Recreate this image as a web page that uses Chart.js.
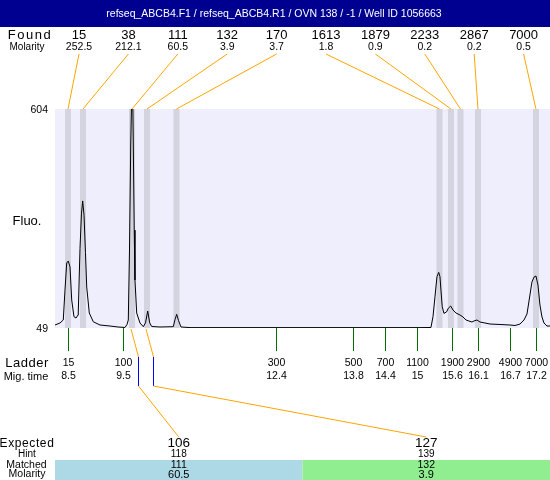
<!DOCTYPE html>
<html>
<head>
<meta charset="utf-8">
<script src="https://cdn.jsdelivr.net/npm/chart.js@4.4.1/dist/chart.umd.min.js"></script>
<style>
  html, body { margin: 0; padding: 0; background: #fff; }
  canvas { display: block; }
</style>
</head>
<body>
<canvas id="chart" width="550" height="480"></canvas>
<script>
const title = 'refseq_ABCB4.F1 / refseq_ABCB4.R1 / OVN 138 / -1 / Well ID 1056663'

// trace: migration time (min) and fluorescence
const traceTime = [
  8.250, 8.343, 8.404, 8.436, 8.468, 8.497, 8.529, 8.561, 8.603, 8.641,
  8.678, 8.683, 8.715, 8.743, 8.765, 8.790, 8.817, 8.840, 8.888, 8.963,
  9.087, 9.273, 9.422, 9.552, 9.590, 9.614, 9.636, 9.659, 9.677, 9.696,
  9.707, 9.724, 9.738, 9.770, 9.831, 9.893, 9.934, 9.975, 10.012, 10.049,
  10.203, 10.451, 10.482, 10.514, 10.548, 10.594, 10.762, 12.808, 15.041, 15.245,
  15.283, 15.320, 15.357, 15.389, 15.413, 15.431, 15.455, 15.487, 15.537, 15.567,
  15.612, 15.655, 15.710, 15.785, 15.841, 15.897, 15.952, 16.008, 16.045, 16.101,
  16.157, 16.250, 16.343, 16.529, 16.715, 16.808, 16.901, 16.976, 17.032, 17.087,
  17.124, 17.162, 17.199, 17.236, 17.273, 17.311, 17.348, 17.404, 17.460
]
const traceFluo = [
  56.6, 61.7, 69.3, 145, 213.7, 218.8, 204, 120, 77.6, 74.3,
  82, 87, 250, 340, 371, 335, 240, 153, 87, 64.7,
  56.6, 54, 51.5, 50.3, 58, 69.3, 246.7, 512.7, 640, 640,
  512.7, 297, 170.6, 87, 61.7, 52.3, 62, 92, 62, 52.8,
  51.5, 52.3, 70, 83.7, 68, 51.5, 50, 50, 50, 50.3,
  77.6, 128, 179, 190, 179, 145, 103, 86, 90, 99,
  104.7, 94.6, 87, 82, 76.9, 69.3, 66.7, 64.2, 66.7, 69.3,
  64.2, 61.7, 59.1, 57.9, 56.6, 55.3, 59, 69.3, 84.5, 132.6,
  165.6, 178, 180.8, 158, 107.3, 76.9, 61.7, 54, 54
]
const fluoMin = 49
const fluoMax = 604

// found peaks
const foundSize = [15, 38, 111, 132, 170, 1613, 1879, 2233, 2867, 7000]
const foundMolarity = [252.5, 212.1, 60.5, 3.9, 3.7, 1.8, 0.9, 0.2, 0.2, 0.5]
const foundTime = [8.492, 8.771, 9.683, 9.962, 10.510, 15.403, 15.617, 15.794, 16.120, 17.199]

// ladder
const ladderSize = [15, 100, 300, 500, 700, 1100, 1900, 2900, 4900, 7000]
const ladderTime = [8.50, 9.52, 12.36, 13.79, 14.39, 14.99, 15.64, 16.12, 16.71, 17.20]

// expected fragments
const expectedSize = [106, 127]
const hintSize = [118, 139]
const matchedSize = [111, 132]
const matchedMolarity = [60.5, 3.9]
const expectedTime = [9.785, 10.079]

const FONT = '"Liberation Sans", Arial, sans-serif'
const bandHalf = 0.056

function text(ctx, str, x, y, size, align, spacing) {
  ctx.font = size + 'px ' + FONT
  ctx.textAlign = align || 'center'
  ctx.textBaseline = 'middle'
  ctx.letterSpacing = (spacing || 0) + 'px'
  ctx.fillText(String(str), x, y)
  ctx.letterSpacing = '0px'
}

function line(ctx, x1, y1, x2, y2, color) {
  ctx.strokeStyle = color
  ctx.lineWidth = 1
  ctx.beginPath()
  ctx.moveTo(x1, y1)
  ctx.lineTo(x2, y2)
  ctx.stroke()
}

const decor = {
  id: 'decor',
  beforeDatasetsDraw(chart) {
    const { ctx, chartArea: a, scales: { x } } = chart
    ctx.save()
    ctx.fillStyle = '#eeeefc'
    ctx.fillRect(a.left, a.top, a.right - a.left, a.bottom - a.top)
    ctx.fillStyle = '#d4d4e0'
    foundTime.forEach(t => {
      const x1 = x.getPixelForValue(t - bandHalf)
      const x2 = x.getPixelForValue(t + bandHalf)
      ctx.fillRect(x1, a.top, x2 - x1, a.bottom - a.top)
    })
    ctx.restore()
  },
  afterDraw(chart) {
    const { ctx, chartArea: a, scales: { x, y } } = chart
    const W = chart.width
    ctx.save()

    // title bar
    ctx.fillStyle = '#000090'
    ctx.fillRect(0, 0, W, 27)
    ctx.fillStyle = '#fff'
    text(ctx, title, 274, 14, 10.5)

    // found / molarity
    ctx.fillStyle = '#000'
    text(ctx, 'Found', 30, 35, 13, 'center', 1.5)
    text(ctx, 'Molarity', 27, 47, 10)
    foundSize.forEach((s, i) => {
      const lx = 79 + 49.4 * i
      ctx.fillStyle = '#000'
      text(ctx, s, lx, 35, 13)
      text(ctx, foundMolarity[i], lx, 47, 10.5)
      line(ctx, lx, 54, x.getPixelForValue(foundTime[i]), a.top, '#ffa500')
    })

    // y labels
    ctx.fillStyle = '#000'
    text(ctx, fluoMax, 48, y.getPixelForValue(fluoMax) + 1.5, 10.5, 'right')
    text(ctx, fluoMin, 48, y.getPixelForValue(fluoMin) + 1, 10.5, 'right')
    text(ctx, 'Fluo.', 27, 221, 13)

    // ladder
    ladderTime.forEach((t, i) => {
      const px = Math.round(x.getPixelForValue(t)) + 0.5
      line(ctx, px, a.bottom, px, a.bottom + 23, '#007000')
      ctx.fillStyle = '#000'
      text(ctx, ladderSize[i], px, 363.5, 10.5)
      text(ctx, parseFloat(t.toFixed(1)), px, 376.5, 10.5)
    })
    text(ctx, 'Ladder', 27, 363.5, 13, 'center', 0.5)
    text(ctx, 'Mig. time', 26, 376.5, 11)

    // expected table
    const colW = (a.right - a.left) / expectedSize.length
    const colors = ['#add8e6', '#90ee90']
    expectedSize.forEach((s, i) => {
      const cx = a.left + colW * (i + 0.5)
      ctx.fillStyle = colors[i % colors.length]
      ctx.fillRect(a.left + colW * i, 460, colW, 20)
      const pk = x.getPixelForValue(foundTime[foundSize.indexOf(matchedSize[i])])
      const bx = Math.round(x.getPixelForValue(expectedTime[i])) + 0.5
      line(ctx, pk - 1, a.bottom + 1, bx, 357, '#ffa500')
      line(ctx, bx, 357, bx, 386, '#0000ff')
      line(ctx, bx, 386, cx, 437, '#ffa500')
      ctx.fillStyle = '#000'
      text(ctx, s, cx, 443.5, 13.5)
      text(ctx, hintSize[i], cx, 454.5, 10)
      text(ctx, matchedSize[i], cx, 465, 10.5)
      text(ctx, matchedMolarity[i], cx, 474.5, 11)
    })
    ctx.fillStyle = '#000'
    text(ctx, 'Expected', 27, 443.5, 12, 'center', 0.6)
    text(ctx, 'Hint', 27, 454.5, 10)
    text(ctx, 'Matched', 26.5, 465, 10.5)
    text(ctx, 'Molarity', 27, 474.5, 10.5)

    ctx.restore()
  }
}

const ctx = document.getElementById('chart')

new Chart(ctx, {
  type: 'line',
  data: {
    datasets: [{
      data: traceTime.map((t, i) => ({ x: t, y: traceFluo[i] })),
      borderColor: '#000',
      borderWidth: 1,
      pointRadius: 0,
      tension: 0,
      fill: false
    }]
  },
  options: {
    responsive: false,
    animation: false,
    devicePixelRatio: 1,
    layout: {
      padding: { left: 55, right: 0, top: 109, bottom: 152 }
    },
    scales: {
      x: { type: 'linear', min: 8.25, max: 17.46, display: false },
      y: { type: 'linear', min: fluoMin, max: fluoMax, display: false }
    },
    plugins: {
      legend: { display: false },
      tooltip: { enabled: false }
    }
  },
  plugins: [decor]
})
</script>
</body>
</html>
